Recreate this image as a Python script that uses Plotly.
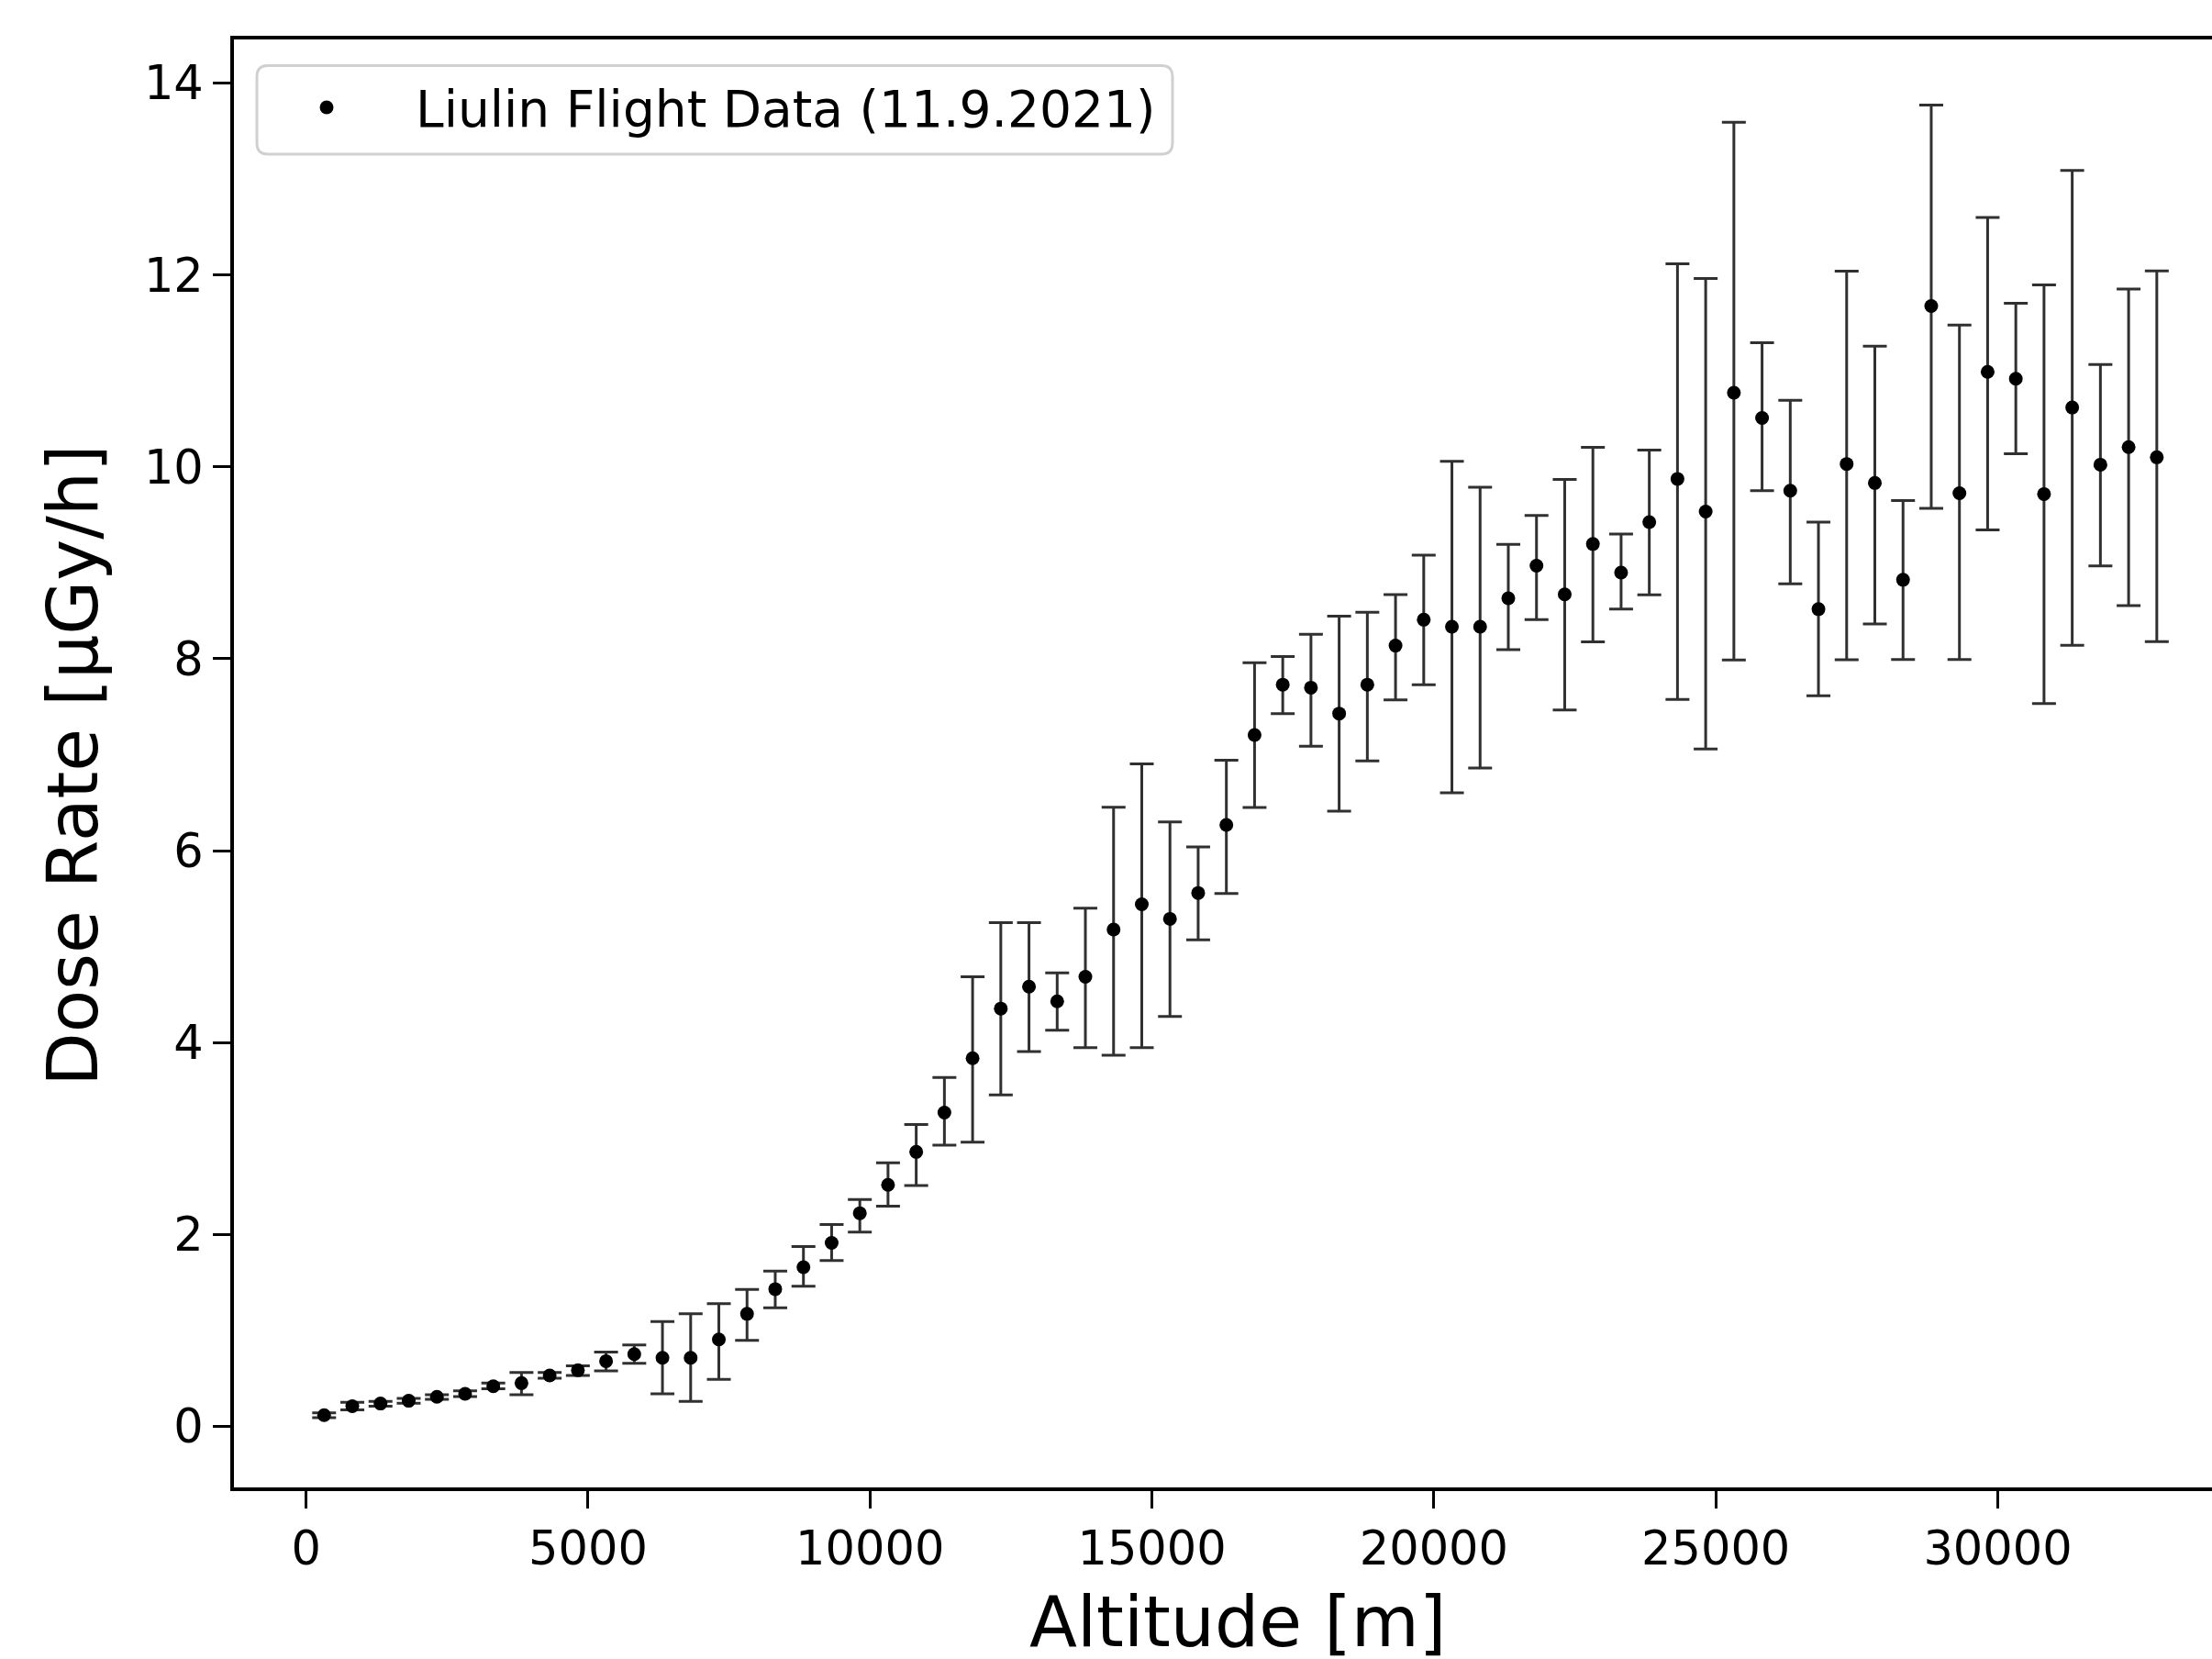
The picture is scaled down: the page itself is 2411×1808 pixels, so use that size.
import plotly.graph_objects as go

# ---- data ----
altitude_m = [320, 820, 1320, 1820, 2320, 2820, 3320, 3820, 4320, 4820,
              5320, 5820, 6320, 6820, 7320, 7820, 8320, 8820, 9320, 9820,
              10320, 10820, 11320, 11820, 12320, 12820, 13320, 13820, 14320, 14820,
              15320, 15820, 16320, 16820, 17320, 17820, 18320, 18820, 19320, 19820,
              20320, 20820, 21320, 21820, 22320, 22820, 23320, 23820, 24320, 24820,
              25320, 25820, 26320, 26820, 27320, 27820, 28320, 28820, 29320, 29820,
              30320, 30820, 31320, 31820, 32320, 32820]
dose_rate = [0.116, 0.21, 0.237, 0.266, 0.307, 0.339, 0.418, 0.45, 0.53, 0.584,
             0.679, 0.752, 0.714, 0.714, 0.905, 1.172, 1.43, 1.658, 1.912, 2.221,
             2.517, 2.86, 3.27, 3.836, 4.354, 4.583, 4.43, 4.685, 5.178, 5.441,
             5.289, 5.559, 6.268, 7.206, 7.73, 7.699, 7.429, 7.73, 8.137, 8.407,
             8.334, 8.334, 8.63, 8.97, 8.671, 9.196, 8.898, 9.424, 9.875, 9.534,
             10.773, 10.51, 9.752, 8.517, 10.03, 9.832, 8.823, 11.676, 9.725, 10.99,
             10.918, 9.717, 10.619, 10.023, 10.206, 10.1]
dose_lower = [0.09, 0.17, 0.21, 0.24, 0.28, 0.31, 0.39, 0.33, 0.50, 0.53,
              0.577, 0.657, 0.339, 0.26, 0.488, 0.895, 1.235, 1.461, 1.728, 2.024,
              2.294, 2.51, 2.93, 2.961, 3.454, 3.906, 4.128, 3.947, 3.868, 3.947,
              4.272, 5.07, 5.553, 6.449, 7.429, 7.088, 6.411, 6.936, 7.572, 7.73,
              6.602, 6.862, 8.096, 8.407, 7.466, 8.176, 8.517, 8.666, 7.576, 7.06,
              7.988, 9.752, 8.78, 7.615, 7.99, 8.362, 7.992, 9.568, 7.992, 9.342,
              10.138, 7.533, 8.141, 8.967, 8.554, 8.179]
dose_upper = [0.14, 0.25, 0.26, 0.29, 0.33, 0.37, 0.45, 0.56, 0.56, 0.63,
              0.774, 0.848, 1.092, 1.172, 1.277, 1.426, 1.617, 1.874, 2.103, 2.364,
              2.746, 3.146, 3.636, 4.685, 5.25, 5.25, 4.726, 5.40, 6.452, 6.904,
              6.30, 6.039, 6.942, 7.959, 8.023, 8.255, 8.445, 8.484, 8.669, 9.081,
              10.057, 9.787, 9.193, 9.494, 9.87, 10.203, 9.30, 10.176, 12.116, 11.964,
              13.593, 11.293, 10.693, 9.424, 12.04, 11.258, 9.649, 13.77, 11.479, 12.599,
              11.705, 11.897, 13.089, 11.066, 11.854, 12.042]
x_ticks = [0, 5000, 10000, 15000, 20000, 25000, 30000]
y_ticks = [0, 2, 4, 6, 8, 10, 12, 14]
series_name = "Liulin Flight Data (11.9.2021)"
x_title = "Altitude [m]"
y_title = "Dose Rate [µGy/h]"

# ---- layout geometry (pixels) ----
W, H = 2411, 1808
L, T = 255, 43.3
B_PX = 1621.3
PW, PH = W - L, B_PX - T
FONT = "DejaVu Sans"


def px(xp):
    return (xp - L) / PW


def py(yp):
    return (B_PX - yp) / PH


err_plus = [u - v for u, v in zip(dose_upper, dose_rate)]
err_minus = [v - lo for v, lo in zip(dose_rate, dose_lower)]

fig = go.Figure()
fig.add_trace(go.Scatter(
    x=altitude_m, y=dose_rate, mode="markers", name=series_name,
    marker=dict(color="black", size=15, line=dict(width=0)),
    error_y=dict(type="data", symmetric=False, array=err_plus, arrayminus=err_minus,
                 color="#303030", thickness=3, width=13),
))

# rounded legend frame
x0, x1 = px(280), px(1278)
y0, y1 = py(168.3), py(71.7)
rx, ry = 12 / PW, 12 / PH
path = (f"M {x0+rx},{y1} L {x1-rx},{y1} Q {x1},{y1} {x1},{y1-ry} "
        f"L {x1},{y0+ry} Q {x1},{y0} {x1-rx},{y0} L {x0+rx},{y0} "
        f"Q {x0},{y0} {x0},{y0+ry} L {x0},{y1-ry} Q {x0},{y1} {x0+rx},{y1} Z")
fig.add_shape(type="path", path=path, xref="paper", yref="paper",
              line=dict(color="#d0d0d0", width=3), fillcolor="rgba(255,255,255,0.8)",
              layer="above")

axis_common = dict(showline=True, linewidth=4, linecolor="black",
                   ticks="outside", ticklen=19, tickwidth=3, tickcolor="black",
                   showgrid=False, zeroline=False,
                   tickfont=dict(family=FONT, size=51, color="black"))

fig.update_layout(
    width=W, height=H,
    margin=dict(l=L, r=0, t=T, b=H - B_PX, pad=0),
    paper_bgcolor="white", plot_bgcolor="white",
    font=dict(family=FONT, color="black"),
    xaxis=dict(range=[-1279, 33799], tickvals=x_ticks, mirror=True,
               ticktext=[str(v) for v in x_ticks], **axis_common),
    yaxis=dict(range=[-0.637, 14.455], tickvals=y_ticks, mirror=False,
               ticktext=[str(v) for v in y_ticks], **axis_common),
    showlegend=True,
    legend=dict(x=px(259), y=py(75), xanchor="left", yanchor="top",
                bgcolor="rgba(0,0,0,0)", borderwidth=0,
                font=dict(family=FONT, size=55, color="black"),
                itemwidth=184),
    annotations=[
        dict(text=x_title, x=px(1349), y=py(1768), xref="paper", yref="paper",
             xanchor="center", yanchor="middle", showarrow=False,
             font=dict(family=FONT, size=76, color="black")),
        dict(text=y_title, x=px(80), y=py(835), xref="paper", yref="paper",
             xanchor="center", yanchor="middle", showarrow=False, textangle=-90,
             font=dict(family=FONT, size=76, color="black")),
    ],
)

fig.write_html("out.html", config={"displayModeBar": False},
               post_script="document.body.style.margin='0';")
